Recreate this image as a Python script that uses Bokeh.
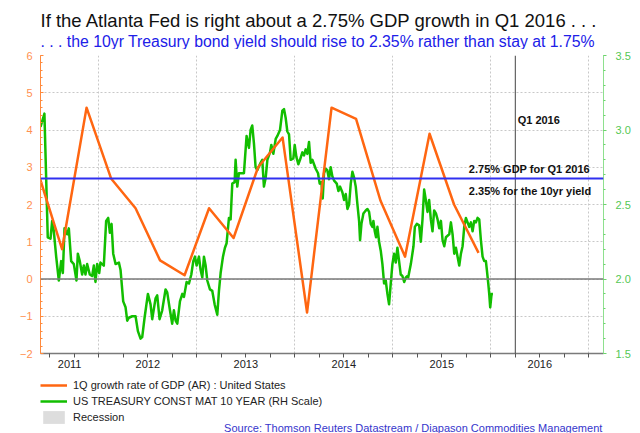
import numpy as np
from bokeh.plotting import figure
from bokeh.layouts import column
from bokeh.models import (Range1d, LinearAxis, FixedTicker, Span, Label, Legend,
                          LegendItem, NumeralTickFormatter)
from bokeh.embed import file_html
from bokeh.resources import INLINE

FONT = "Liberation Sans"

# ---------------- data ----------------
gdp_quarters = ["2011Q2", "2011Q3", "2011Q4", "2012Q1", "2012Q2", "2012Q3", "2012Q4",
                "2013Q1", "2013Q2", "2013Q3", "2013Q4", "2014Q1", "2014Q2", "2014Q3",
                "2014Q4", "2015Q1", "2015Q2", "2015Q3", "2015Q4"]
gdp_growth = [2.9, 0.8, 4.6, 2.7, 1.9, 0.5, 0.1, 1.9, 1.1, 3.0, 3.8, -0.9, 4.6, 4.3,
              2.1, 0.6, 3.9, 2.0, 0.7]

yield_dates = [
    2011.405, 2011.445, 2011.479, 2011.507, 2011.524, 2011.541, 2011.565, 2011.592,
    2011.616, 2011.633, 2011.650, 2011.677, 2011.694, 2011.718, 2011.745, 2011.772,
    2011.786, 2011.806, 2011.830, 2011.847, 2011.864, 2011.881, 2011.908, 2011.932,
    2011.949, 2011.966, 2011.983, 2012.004, 2012.017, 2012.051, 2012.075, 2012.096,
    2012.113, 2012.130, 2012.147, 2012.171, 2012.205, 2012.222, 2012.249, 2012.273,
    2012.290, 2012.307, 2012.341, 2012.375, 2012.399, 2012.426, 2012.443, 2012.467,
    2012.501, 2012.528, 2012.545, 2012.579, 2012.596, 2012.620, 2012.647, 2012.681,
    2012.698, 2012.726, 2012.749, 2012.766, 2012.784, 2012.801, 2012.828, 2012.852,
    2012.869, 2012.896, 2012.920, 2012.944, 2012.964, 2012.981, 2012.998, 2013.022,
    2013.039, 2013.056, 2013.073, 2013.090, 2013.107, 2013.134, 2013.158, 2013.182,
    2013.209, 2013.226, 2013.243, 2013.267, 2013.287, 2013.304, 2013.328,
    2013.345, 2013.362, 2013.386, 2013.396, 2013.413, 2013.430, 2013.464, 2013.481,
    2013.508, 2013.532, 2013.549, 2013.566, 2013.583, 2013.600, 2013.617, 2013.651,
    2013.668, 2013.685, 2013.703, 2013.720, 2013.747, 2013.760, 2013.781, 2013.805,
    2013.822, 2013.849, 2013.873, 2013.890, 2013.907, 2013.924, 2013.941, 2013.958,
    2013.985, 2013.999, 2014.016, 2014.036, 2014.053, 2014.077, 2014.094, 2014.111,
    2014.128, 2014.145, 2014.162, 2014.179, 2014.196, 2014.213, 2014.237, 2014.254,
    2014.271, 2014.285, 2014.298, 2014.315, 2014.332, 2014.349, 2014.366, 2014.383,
    2014.401, 2014.428, 2014.445, 2014.462, 2014.486, 2014.503, 2014.520, 2014.537,
    2014.554, 2014.571, 2014.588, 2014.605, 2014.622, 2014.639, 2014.656, 2014.666,
    2014.680, 2014.700, 2014.724, 2014.741, 2014.758, 2014.775, 2014.792, 2014.802,
    2014.816, 2014.829, 2014.843, 2014.860, 2014.877, 2014.894, 2014.911, 2014.928,
    2014.945, 2014.962, 2014.979, 2014.996, 2015.013, 2015.030, 2015.047, 2015.064,
    2015.081, 2015.098, 2015.116, 2015.133, 2015.150,
    2015.157, 2015.184, 2015.211, 2015.225, 2015.245, 2015.269, 2015.286, 2015.303,
    2015.320, 2015.337, 2015.354, 2015.371, 2015.388, 2015.405, 2015.422, 2015.440,
    2015.457, 2015.474, 2015.491, 2015.508, 2015.525, 2015.542, 2015.559, 2015.576,
    2015.593, 2015.610, 2015.627, 2015.644, 2015.661, 2015.678, 2015.695, 2015.712,
    2015.729, 2015.746, 2015.763, 2015.780, 2015.797, 2015.814, 2015.831, 2015.848,
    2015.865, 2015.882, 2015.899, 2015.916, 2015.933, 2015.950, 2015.960, 2015.974,
    2015.984, 2015.994, 2016.008, 2016.022]
yield_10y = [
    3.02, 3.11, 2.28, 2.27, 2.39, 2.32, 2.15, 1.99,
    2.12, 2.04, 2.34, 2.30, 2.34, 2.12, 2.10, 1.99,
    2.17, 2.12, 2.03, 2.09, 2.03, 2.10, 2.03, 2.02,
    2.09, 1.98, 2.10, 2.04, 2.11, 2.09, 2.39, 2.41,
    2.31, 2.37, 2.17, 2.10, 2.11, 2.06, 1.85, 1.81,
    1.72, 1.74, 1.75, 1.75, 1.65, 1.60, 1.61, 1.74,
    1.90, 1.83, 1.73, 1.87, 1.89, 1.73, 1.79, 1.93,
    1.91, 1.79, 1.70, 1.79, 1.72, 1.70, 1.85, 1.90,
    1.88, 1.98, 1.97, 2.03, 2.12, 2.15, 2.09, 2.15,
    2.06, 2.01, 2.15, 2.09, 1.99, 1.93, 1.92, 1.83,
    1.76, 1.92, 2.04, 2.15, 2.21, 2.24, 2.41,
    2.40, 2.64, 2.65, 2.80, 2.62, 2.71, 2.71, 2.71,
    2.96, 2.88, 3.00, 3.03, 2.91, 2.75, 2.73, 2.78,
    2.80, 2.62, 2.68, 2.80, 2.85, 2.90, 2.84, 2.94,
    2.96, 3.00, 3.13, 3.14, 3.08, 2.99, 2.97, 2.80,
    2.81, 2.90, 2.82, 2.77, 2.80, 2.85, 2.83, 2.87,
    2.84, 2.92, 2.78, 2.80, 2.77, 2.74, 2.71, 2.64,
    2.65, 2.54, 2.71, 2.74, 2.73, 2.67, 2.75, 2.69,
    2.66, 2.64, 2.59, 2.62, 2.58, 2.53, 2.57, 2.47,
    2.50, 2.64, 2.72, 2.68, 2.62, 2.50, 2.39, 2.26,
    2.37, 2.44, 2.46, 2.47, 2.45, 2.37, 2.35, 2.39,
    2.32, 2.28, 2.35, 2.25, 2.19, 2.10, 1.97, 1.99,
    1.90, 1.83, 1.97, 2.10, 2.17, 2.11, 2.21, 2.12,
    2.03, 2.02, 1.98, 2.01, 2.02,
    2.01, 2.10, 2.22, 2.35, 2.37, 2.36, 2.25, 2.40,
    2.60, 2.53, 2.45, 2.53, 2.40, 2.32, 2.46, 2.44,
    2.40, 2.34, 2.39, 2.26, 2.22, 2.28, 2.29, 2.30,
    2.38, 2.30, 2.17, 2.21, 2.15, 2.09, 2.17, 2.22,
    2.35, 2.41, 2.38, 2.35, 2.38, 2.32, 2.39, 2.38,
    2.41, 2.40, 2.26, 2.15, 2.12, 2.12, 2.06, 1.97,
    1.90, 1.81, 1.90, 1.90]

year_labels = ["2011", "2012", "2013", "2014", "2015", "2016"]
year_bounds = [2012, 2013, 2014, 2015, 2016, 2017]
left_ticks = [-2, -1, 0, 1, 2, 3, 4, 5, 6]
right_ticks = [1.5, 2.0, 2.5, 3.0, 3.5]
gdp_target = 2.7
q1_2016_end = 2016.25
x_start, x_end = 2011.405, 2017.15

title_text = "If the Atlanta Fed is right about a 2.75% GDP growth in Q1 2016 . . ."
subtitle_text = ". . . the 10yr Treasury bond yield should rise to 2.35% rather than stay at 1.75%"
source_text = "Source: Thomson Reuters Datastream / Diapason Commodities Management"
legend_labels = ["1Q growth rate of GDP (AR) : United States",
                 "US TREASURY CONST MAT 10 YEAR (RH Scale)", "Recession"]

gdp_dates = [int(q[:4]) + (int(q[-1]) - 0.5) / 4 for q in gdp_quarters]
label_pos = [(max(int(y), x_start) + min(int(y) + 1, x_end)) / 2 for y in year_labels]

C_GDP, C_YLD, C_REC = "#FF6611", "#12BE00", "#DDDDDD"

# common borders (identical in every panel so the column alignment is a no-op)
B_LEFT, B_RIGHT, B_TOP = 40, 37, 6
H_TOP, H_MAIN, H_BOT = 49, 323, 61


def text_panel(h, y_top_page):
    f = figure(width=640, height=h, output_backend="svg", toolbar_location=None,
               x_axis_type=None, y_axis_type=None,
               x_range=Range1d(B_LEFT, 640 - B_RIGHT),
               y_range=Range1d(y_top_page + h, y_top_page + B_TOP),
               min_border_left=B_LEFT, min_border_right=B_RIGHT,
               min_border_top=B_TOP, min_border_bottom=0,
               border_fill_color="white", background_fill_color="white")
    f.outline_line_color = None
    return f


# ---------------- header ----------------
top = text_panel(H_TOP, 0)
top.add_layout(Label(x=40, y=19.5, text=title_text, text_font=FONT,
                     text_font_size="18.5px", text_color="#111111",
                     text_baseline="alphabetic"))
top.add_layout(Label(x=40, y=40.5, text=subtitle_text, text_font=FONT,
                     text_font_size="15.8px", text_color="#2020E8",
                     text_baseline="alphabetic"))

# ---------------- main chart ----------------
p = figure(width=640, height=H_MAIN, output_backend="svg", toolbar_location=None,
           x_range=Range1d(x_start, x_end), y_range=Range1d(-2, 6),
           min_border_left=B_LEFT, min_border_right=B_RIGHT, min_border_top=B_TOP,
           min_border_bottom=19, background_fill_color="white",
           border_fill_color="white")
p.outline_line_color = None
p.extra_y_ranges = {"yld": Range1d(1.5, 3.5)}

xa = p.xaxis[0]
xa.ticker = FixedTicker(ticks=label_pos,
                        minor_ticks=[2011.5 + 0.25 * i for i in range(23)])
xa.major_label_overrides = {pos: lab for pos, lab in zip(label_pos, year_labels)}
xa.major_tick_line_color = None
xa.major_tick_out = 4
xa.major_tick_in = 0
xa.minor_tick_out = 4
xa.minor_tick_in = 0
xa.minor_tick_line_color = "#555555"
xa.axis_line_color = "#7A7A7A"
xa.axis_line_width = 1.5
xa.major_label_standoff = 2
xa.major_label_text_font = FONT
xa.major_label_text_font_size = "11px"
xa.major_label_text_color = "#222222"

p.xgrid.ticker = FixedTicker(ticks=year_bounds)
p.xgrid.grid_line_color = "#C8C8C8"
p.xgrid.grid_line_dash = "2 2"
p.ygrid.grid_line_color = "#C8C8C8"
p.ygrid.grid_line_dash = "2 2"

ya = p.yaxis[0]
ya.ticker = FixedTicker(ticks=left_ticks,
                        minor_ticks=[round(-2 + 0.2 * i, 1) for i in range(41)])
ya.axis_line_color = "#FF8A3D"
ya.major_tick_line_color = "#FF8A3D"
ya.minor_tick_line_color = "#FF8A3D"
ya.major_tick_in = 3
ya.major_tick_out = 0
ya.minor_tick_in = 2
ya.minor_tick_out = 0
ya.major_label_standoff = 8
ya.major_label_text_font = FONT
ya.major_label_text_font_size = "11px"
ya.major_label_text_color = "#FF9050"
p.ygrid.ticker = FixedTicker(ticks=left_ticks)

ra = LinearAxis(y_range_name="yld",
                ticker=FixedTicker(ticks=right_ticks,
                                   minor_ticks=[round(1.5 + 0.1 * i, 1) for i in range(21)]),
                formatter=NumeralTickFormatter(format="0.0"))
ra.axis_line_color = "#8EE08E"
ra.major_tick_line_color = "#6CD46C"
ra.minor_tick_line_color = "#6CD46C"
ra.major_tick_out = 3
ra.major_tick_in = 0
ra.minor_tick_out = 2
ra.minor_tick_in = 0
ra.major_label_standoff = 9
ra.major_label_text_font = FONT
ra.major_label_text_font_size = "11px"
ra.major_label_text_color = "#55C855"
p.add_layout(ra, "right")

p.line(yield_dates, yield_10y, y_range_name="yld", line_color=C_YLD,
       line_width=2.5, line_join="round")
p.line(gdp_dates, gdp_growth, line_color=C_GDP, line_width=2.5, line_join="round")

p.add_layout(Span(location=0, dimension="width", line_color="#7A7A7A", line_width=1.5))
p.add_layout(Span(location=q1_2016_end, dimension="height", line_color="#444444",
                  line_width=1))
p.add_layout(Span(location=gdp_target, dimension="width", line_color="#3030F0",
                  line_width=2))

for txt, x, y in [("Q1 2016", 2016.274, 4.28),
                  ("2.75% GDP for Q1 2016", 2015.776, 2.94),
                  ("2.35% for the 10yr yield", 2015.776, 2.355)]:
    p.add_layout(Label(x=x, y=y, text=txt, text_font=FONT, text_font_size="11px",
                       text_font_style="bold", text_color="#111111",
                       text_baseline="middle"))

# ---------------- footer: legend + source ----------------
bot = text_panel(H_BOT, H_TOP + H_MAIN)
nan = np.array([np.nan])
l_gdp = bot.line(nan, nan, line_color=C_GDP, line_width=2.5)
l_yld = bot.line(nan, nan, line_color=C_YLD, line_width=2.5)
l_rec = bot.quad(left=nan, right=nan, top=nan, bottom=nan, fill_color=C_REC,
                 line_color=None)
legend = Legend(items=[LegendItem(label=legend_labels[0], renderers=[l_gdp]),
                       LegendItem(label=legend_labels[1], renderers=[l_yld]),
                       LegendItem(label=legend_labels[2], renderers=[l_rec])],
                location=(0, 8), orientation="vertical",
                glyph_width=27, glyph_height=16, label_height=16, label_standoff=6,
                spacing=0, padding=0, margin=0,
                border_line_color=None, background_fill_alpha=0,
                label_text_font=FONT, label_text_font_size="11px",
                label_text_color="#222222")
bot.add_layout(legend)
bot.add_layout(Label(x=602, y=427, text=source_text, text_align="right",
                     text_baseline="alphabetic", text_font=FONT,
                     text_font_size="11px", text_color="#3535CC"))

layout = column(top, p, bot, spacing=0)
open("out.html", "w").write(file_html(layout, INLINE))
